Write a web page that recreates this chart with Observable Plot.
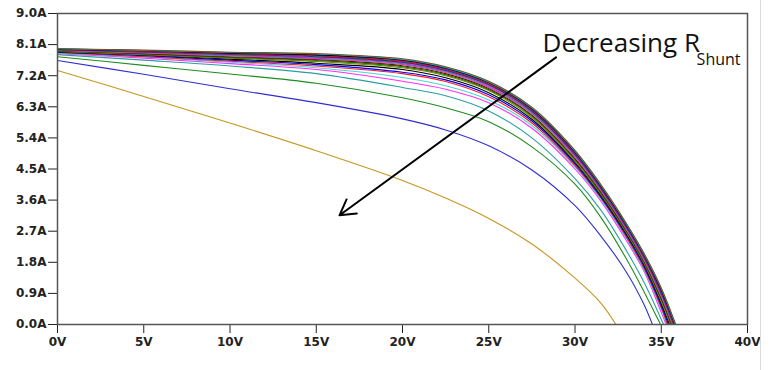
<!DOCTYPE html>
<html>
<head>
<meta charset="utf-8">
<script src="https://cdn.jsdelivr.net/npm/d3@7"></script>
<script src="https://cdn.jsdelivr.net/npm/@observablehq/plot@0.6"></script>
<style>
  html, body { margin: 0; padding: 0; background: #fff; }
  #chart { position: relative; width: 772px; height: 370px; overflow: hidden; }
  #chart svg { display: block; }
  #edge { position: absolute; left: 760px; top: 0; width: 1px; height: 370px; background: #dcdcdc; }
</style>
</head>
<body>
<div id="chart"><div id="edge"></div></div>
<script>
// Voltage sample points (V)
const volts = [0, 5, 10, 15, 20, 22.5, 25, 27.5, 30, 31.5, 33, 34, 35];

// Currents (A) for each stepped R_shunt trace, lowest R_shunt first
const iGold    = [7.35, 6.60, 5.83, 5.03, 4.17, 3.66, 3.07, 2.33, 1.34, 0.62, null, null, null];
const iBlue    = [7.64, 7.24, 6.82, 6.42, 5.95, 5.63, 5.17, 4.47, 3.44, 2.56, 1.50, 0.58, null];
const iGreen   = [7.75, 7.50, 7.25, 6.98, 6.56, 6.27, 5.87, 5.14, 4.06, 3.10, 1.88, 0.95, null];
const iTeal    = [7.81, 7.65, 7.48, 7.26, 6.86, 6.62, 6.18, 5.40, 4.22, 3.31, 2.12, 1.22, 0.15];
const iMagenta = [7.84, 7.71, 7.55, 7.38, 7.04, 6.81, 6.42, 5.68, 4.50, 3.57, 2.41, 1.54, 0.35];
const iCyan    = [7.85, 7.74, 7.59, 7.43, 7.15, 6.91, 6.50, 5.76, 4.56, 3.61, 2.47, 1.58, 0.44];
const iRed     = [7.87, 7.75, 7.62, 7.48, 7.26, 7.03, 6.59, 5.83, 4.60, 3.66, 2.51, 1.63, 0.49];
const iBlue2   = [7.88, 7.78, 7.65, 7.52, 7.30, 7.08, 6.65, 5.89, 4.65, 3.69, 2.56, 1.68, 0.55];
const iBlack   = [7.89, 7.80, 7.68, 7.56, 7.38, 7.14, 6.71, 5.94, 4.69, 3.73, 2.60, 1.73, 0.61];
const iOlive   = [7.90, 7.81, 7.71, 7.61, 7.43, 7.20, 6.77, 5.99, 4.73, 3.77, 2.64, 1.77, 0.67];
const iS11     = [7.91, 7.83, 7.73, 7.64, 7.46, 7.23, 6.80, 6.03, 4.77, 3.80, 2.67, 1.80, 0.72];
const iS12     = [7.92, 7.84, 7.75, 7.67, 7.49, 7.26, 6.83, 6.06, 4.80, 3.84, 2.70, 1.84, 0.76];
const iS13     = [7.93, 7.86, 7.77, 7.69, 7.52, 7.29, 6.86, 6.10, 4.84, 3.87, 2.73, 1.87, 0.81];
const iS14     = [7.94, 7.87, 7.79, 7.71, 7.55, 7.32, 6.89, 6.13, 4.87, 3.90, 2.76, 1.90, 0.85];
const iS15     = [7.94, 7.88, 7.80, 7.73, 7.57, 7.34, 6.92, 6.15, 4.90, 3.92, 2.79, 1.93, 0.88];
const iS16     = [7.95, 7.89, 7.82, 7.75, 7.59, 7.36, 6.94, 6.18, 4.92, 3.94, 2.81, 1.95, 0.91];
const iS17     = [7.96, 7.90, 7.83, 7.77, 7.61, 7.38, 6.96, 6.20, 4.95, 3.97, 2.83, 1.97, 0.94];
const iS18     = [7.96, 7.91, 7.84, 7.79, 7.63, 7.40, 6.98, 6.22, 4.97, 3.99, 2.85, 1.99, 0.97];
const iS19     = [7.97, 7.92, 7.85, 7.80, 7.65, 7.42, 7.00, 6.24, 4.99, 4.00, 2.86, 2.01, 0.99];
const iS20     = [7.97, 7.93, 7.86, 7.81, 7.66, 7.43, 7.01, 6.26, 5.01, 4.02, 2.88, 2.03, 1.02];
const iS21     = [7.98, 7.93, 7.87, 7.83, 7.67, 7.44, 7.02, 6.27, 5.02, 4.03, 2.89, 2.04, 1.04];
const iS22     = [7.98, 7.94, 7.88, 7.84, 7.69, 7.46, 7.04, 6.29, 5.04, 4.05, 2.91, 2.06, 1.06];

// Open-circuit voltage (V) of each trace, same order
const vocs = [32.37, 34.49, 34.96, 35.13, 35.28, 35.33, 35.36, 35.42, 35.48, 35.54,
              35.58, 35.61, 35.65, 35.68, 35.70, 35.73, 35.75, 35.77, 35.79, 35.81, 35.82, 35.84];

const traces = [iGold, iBlue, iGreen, iTeal, iMagenta, iCyan, iRed, iBlue2, iBlack, iOlive,
                iS11, iS12, iS13, iS14, iS15, iS16, iS17, iS18, iS19, iS20, iS21, iS22];

const traceColors = ["#c8961e", "#2e2ed2", "#1e8c1e", "#2a9f9f", "#ff2eff", "#44d6d6", "#ff1a1a", "#0000ff", "#000000", "#808000",
                     "#008000", "#800000", "#808080", "#ff00ff", "#00a0a0", "#800080", "#404040", "#ff0000", "#0000c0", "#000000", "#00c0c0", "#805020"];

// Axis ticks
const xTicks = [0, 5, 10, 15, 20, 25, 30, 35, 40];
const yTicks = [0, 0.9, 1.8, 2.7, 3.6, 4.5, 5.4, 6.3, 7.2, 8.1, 9.0];

// Annotation
const annText = ["Decreasing R", "Shunt"];
const annV = [28.12, 37.05];
const annI = [7.88, 7.50];
const arrowV = [28.9, 16.35];
const arrowI = [7.73, 3.16];

// Build the table for the line mark
const rows = [];
traces.forEach((arr, k) => {
  arr.forEach((I, j) => {
    if (I != null && volts[j] < vocs[k]) rows.push({id: k, V: volts[j], I, color: traceColors[k]});
  });
  rows.push({id: k, V: vocs[k], I: 0, color: traceColors[k]});
});

const arrowData = [{x1: arrowV[0], y1: arrowI[0], x2: arrowV[1], y2: arrowI[1]}];

const chart = Plot.plot({
  width: 772,
  height: 370,
  marginLeft: 57,
  marginRight: 25,
  marginTop: 13,
  marginBottom: 46,
  style: {fontFamily: "DejaVu Sans", fontSize: "12px", fontWeight: "bold", color: "#222", background: "white", overflow: "visible"},
  x: {domain: [0, 40], ticks: xTicks, tickFormat: d => d + "V", tickSize: 9, tickPadding: 4, label: null},
  y: {domain: [0, 9], ticks: yTicks, tickFormat: d => d.toFixed(1) + "A", tickSize: 9, tickPadding: 2, label: null},
  color: {type: "identity"},
  marks: [
    Plot.line(rows, {x: "V", y: "I", z: "id", stroke: "color", strokeWidth: 1.1, curve: "catmull-rom"}),
    Plot.frame({stroke: "#555", strokeWidth: 1.5}),
    Plot.arrow(arrowData, {x1: "x1", y1: "y1", x2: "x2", y2: "y2", stroke: "#000", strokeWidth: 2, headLength: 13}),
    Plot.text([annText[0]], {x: [annV[0]], y: [annI[0]], text: d => d, textAnchor: "start", lineAnchor: "bottom",
      fontFamily: "Open Sans", fontSize: 26, fontWeight: "normal", fill: "#111"}),
    Plot.text([annText[1]], {x: [annV[1]], y: [annI[1]], text: d => d, textAnchor: "start", lineAnchor: "bottom",
      fontFamily: "Open Sans", fontSize: 16, fontWeight: "normal", fill: "#111"})
  ]
});

document.getElementById("chart").appendChild(chart);
</script>
</body>
</html>
